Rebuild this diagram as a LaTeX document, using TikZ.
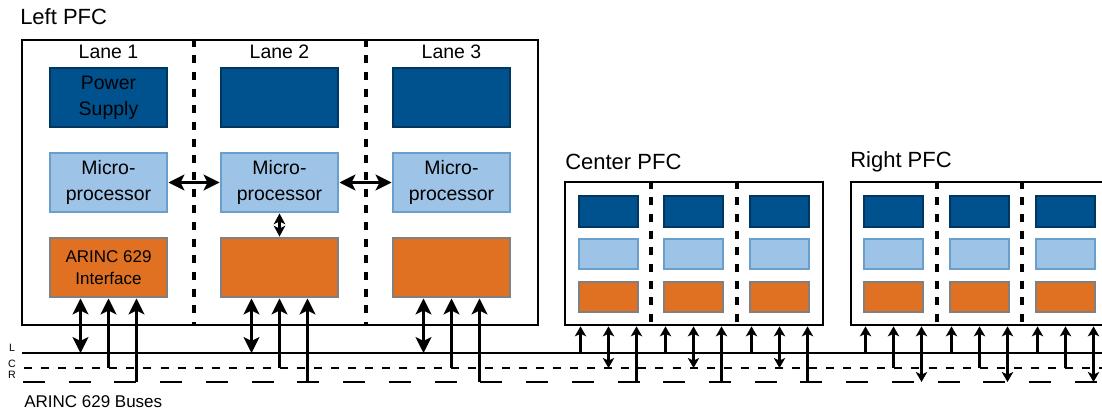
\documentclass[tikz,border=0pt]{standalone}
\usepackage{fontspec}
\setmainfont{Liberation Sans}
\usetikzlibrary{arrows.meta}
\definecolor{dblue}{HTML}{00528F}
\definecolor{dblueb}{HTML}{00365F}
\definecolor{lblue}{HTML}{9DC3E6}
\definecolor{lblueb}{HTML}{6A9FCB}
\definecolor{orng}{HTML}{E07122}
\definecolor{ogray}{HTML}{808080}
\newcommand\bxn[7]{\node[#2, minimum width={(#5-#3)*0.75pt}, minimum height={(#6-#4)*0.75pt}] (#1) at ({(#3+#5)/2},{(#4+#6)/2}) {#7};}
\begin{document}
\begin{tikzpicture}[x=0.75pt,y=-0.75pt,
  pfc/.style={draw, line width=2pt, inner sep=0pt},
  psbox/.style={fill=dblue, draw=dblueb, line width=2.2pt, inner sep=0pt, align=center, font=\fontsize{14.6}{19.5}\selectfont},
  mpbox/.style={fill=lblue, draw=lblueb, line width=2.2pt, inner sep=0pt, align=center, font=\fontsize{14.6}{19}\selectfont},
  aibox/.style={fill=orng, draw=ogray, line width=2.2pt, inner sep=0pt, align=center, font=\fontsize{12.75}{16.5}\selectfont},
  spsbox/.style={fill=dblue, draw=dblueb, line width=2pt, inner sep=0pt},
  smpbox/.style={fill=lblue, draw=lblueb, line width=2pt, inner sep=0pt},
  saibox/.style={fill=orng, draw=ogray, line width=2pt, inner sep=0pt},
  divline/.style={line width=2.4pt, dash pattern=on 6pt off 6.5pt},
  title/.style={font=\fontsize{16.5}{20}\selectfont, anchor=west, inner sep=0pt},
  lane/.style={font=\fontsize{14.6}{18}\selectfont, inner sep=0pt},
  busl/.style={font=\fontsize{8}{8}\selectfont, inner sep=0pt},
  bigbi/.style={line width=2pt, {Stealth[length=12pt,width=12pt,inset=3pt]}-{Stealth[length=12pt,width=12pt,inset=3pt]}},
  bigup/.style={line width=2pt, -{Stealth[length=12pt,width=12pt,inset=3pt]}},
  midbi/.style={line width=2pt, {Stealth[length=8pt,width=8.5pt,inset=2pt]}-{Stealth[length=8pt,width=8.5pt,inset=2pt]}},
  smbi/.style={line width=1.8pt, {Stealth[length=7.5pt,width=8.5pt,inset=2pt]}-{Stealth[length=7.5pt,width=8.5pt,inset=2pt]}},
  smup/.style={line width=1.8pt, -{Stealth[length=7.5pt,width=8.5pt,inset=2pt]}},
  busC/.style={line width=2pt, dash pattern=on 6pt off 6.8pt},
  busR/.style={line width=2pt, dash pattern=on 16.5pt off 17.8pt}
]
\useasboundingbox (0,0) rectangle (1102,412);
\clip (0,0) rectangle (1102,412);

% ---------- Left PFC ----------
\node[title] (lt) at (20,17) {Left PFC};
\bxn{lpfc}{pfc}{22}{40}{538}{325}{}
\draw[divline] (lpfc.north -| 194,0) -- (lpfc.south -| 194,0);
\draw[divline] (lpfc.north -| 366,0) -- (lpfc.south -| 366,0);
\node[lane] (l1) at (108.5,52) {Lane 1};
\node[lane] (l2) at (279.5,52) {Lane 2};
\node[lane] (l3) at (451.5,52) {Lane 3};

\bxn{p1}{psbox}{50}{68}{167}{127}{Power\\Supply}
\bxn{p2}{psbox}{221}{68}{338}{127}{}
\bxn{p3}{psbox}{393}{68}{510}{127}{}
\bxn{m1}{mpbox}{50}{153}{167}{212}{Micro-\\processor}
\bxn{m2}{mpbox}{221}{153}{338}{212}{Micro-\\processor}
\bxn{m3}{mpbox}{393}{153}{510}{212}{Micro-\\processor}
\bxn{o1}{aibox}{50}{238}{167}{297}{ARINC 629\\Interface}
\bxn{o2}{aibox}{221}{238}{338}{297}{}
\bxn{o3}{aibox}{393}{238}{510}{297}{}

\draw[bigbi] (m1.east) -- (m2.west);
\draw[bigbi] (m2.east) -- (m3.west);
\draw[midbi] (m2.south) -- (o2.north);

% ---------- Buses ----------
\coordinate (Lw) at (22,353);  \coordinate (Le) at (1102,353);
\coordinate (Cw) at (24,368);  \coordinate (Ce) at (1102,368);
\coordinate (Rw) at (23,382);  \coordinate (Re) at (1102,382);
\draw[line width=2pt] (Lw) -- (Le);
\draw[busC] (Cw) -- (Ce);
\draw[busR] (Rw) -- (Re);
\node[busl] (bl) at (12,348) {L};
\node[busl] (bc) at (12,364) {C};
\node[busl] (br) at (12,375) {R};
\node[font=\fontsize{12.75}{15}\selectfont, anchor=west, inner sep=0pt] (bt) at (24,402) {ARINC 629 Buses};

\foreach \n in {1,2,3}{
  \draw[bigbi] ([xshift=-21pt]o\n.south) -- ([xshift=-21pt]o\n.south |- Lw);
  \draw[bigup] ([xshift=0pt]o\n.south |- Cw) -- ([xshift=0pt]o\n.south);
  \draw[bigup] ([xshift=21pt]o\n.south |- Rw) -- ([xshift=21pt]o\n.south);
}

% ---------- Center PFC ----------
\node[title] (ct) at (565,162) {Center PFC};
\bxn{cpfc}{pfc}{565}{182}{823}{325}{}
\draw[divline] (cpfc.north -| 651,0) -- (cpfc.south -| 651,0);
\draw[divline] (cpfc.north -| 737,0) -- (cpfc.south -| 737,0);
\bxn{cp1}{spsbox}{579}{196}{638}{227}{}
\bxn{cp2}{spsbox}{664}{196}{723}{227}{}
\bxn{cp3}{spsbox}{750}{196}{809}{227}{}
\bxn{cm1}{smpbox}{579}{239}{638}{269}{}
\bxn{cm2}{smpbox}{664}{239}{723}{269}{}
\bxn{cm3}{smpbox}{750}{239}{809}{269}{}
\bxn{co1}{saibox}{579}{282}{638}{312}{}
\bxn{co2}{saibox}{664}{282}{723}{312}{}
\bxn{co3}{saibox}{750}{282}{809}{312}{}
\foreach \n in {1,2,3}{
  \draw[smup] ([xshift=-21pt]co\n.south |- Lw) -- ([xshift=-21pt]co\n.south |- cpfc.south);
  \draw[smbi] (co\n.south |- cpfc.south) -- (co\n.south |- Cw);
  \draw[smup] ([xshift=21pt]co\n.south |- Rw) -- ([xshift=21pt]co\n.south |- cpfc.south);
}

% ---------- Right PFC ----------
\node[title] (rt) at (850,162) {Right PFC};
\bxn{rpfc}{pfc}{851}{182}{1115}{325}{}
\draw[divline] (rpfc.north -| 937,0) -- (rpfc.south -| 937,0);
\draw[divline] (rpfc.north -| 1022,0) -- (rpfc.south -| 1022,0);
\bxn{rp1}{spsbox}{864}{196}{923}{227}{}
\bxn{rp2}{spsbox}{950}{196}{1009}{227}{}
\bxn{rp3}{spsbox}{1036}{196}{1095}{227}{}
\bxn{rm1}{smpbox}{864}{239}{923}{269}{}
\bxn{rm2}{smpbox}{950}{239}{1009}{269}{}
\bxn{rm3}{smpbox}{1036}{239}{1095}{269}{}
\bxn{ro1}{saibox}{864}{282}{923}{312}{}
\bxn{ro2}{saibox}{950}{282}{1009}{312}{}
\bxn{ro3}{saibox}{1036}{282}{1095}{312}{}
\foreach \n in {1,2,3}{
  \draw[smup] ([xshift=-21pt]ro\n.south |- Lw) -- ([xshift=-21pt]ro\n.south |- rpfc.south);
  \draw[smup] (ro\n.south |- Cw) -- (ro\n.south |- rpfc.south);
  \draw[smbi] ([xshift=21pt]ro\n.south |- rpfc.south) -- ([xshift=21pt]ro\n.south |- Rw);
}
\end{tikzpicture}
\end{document}
